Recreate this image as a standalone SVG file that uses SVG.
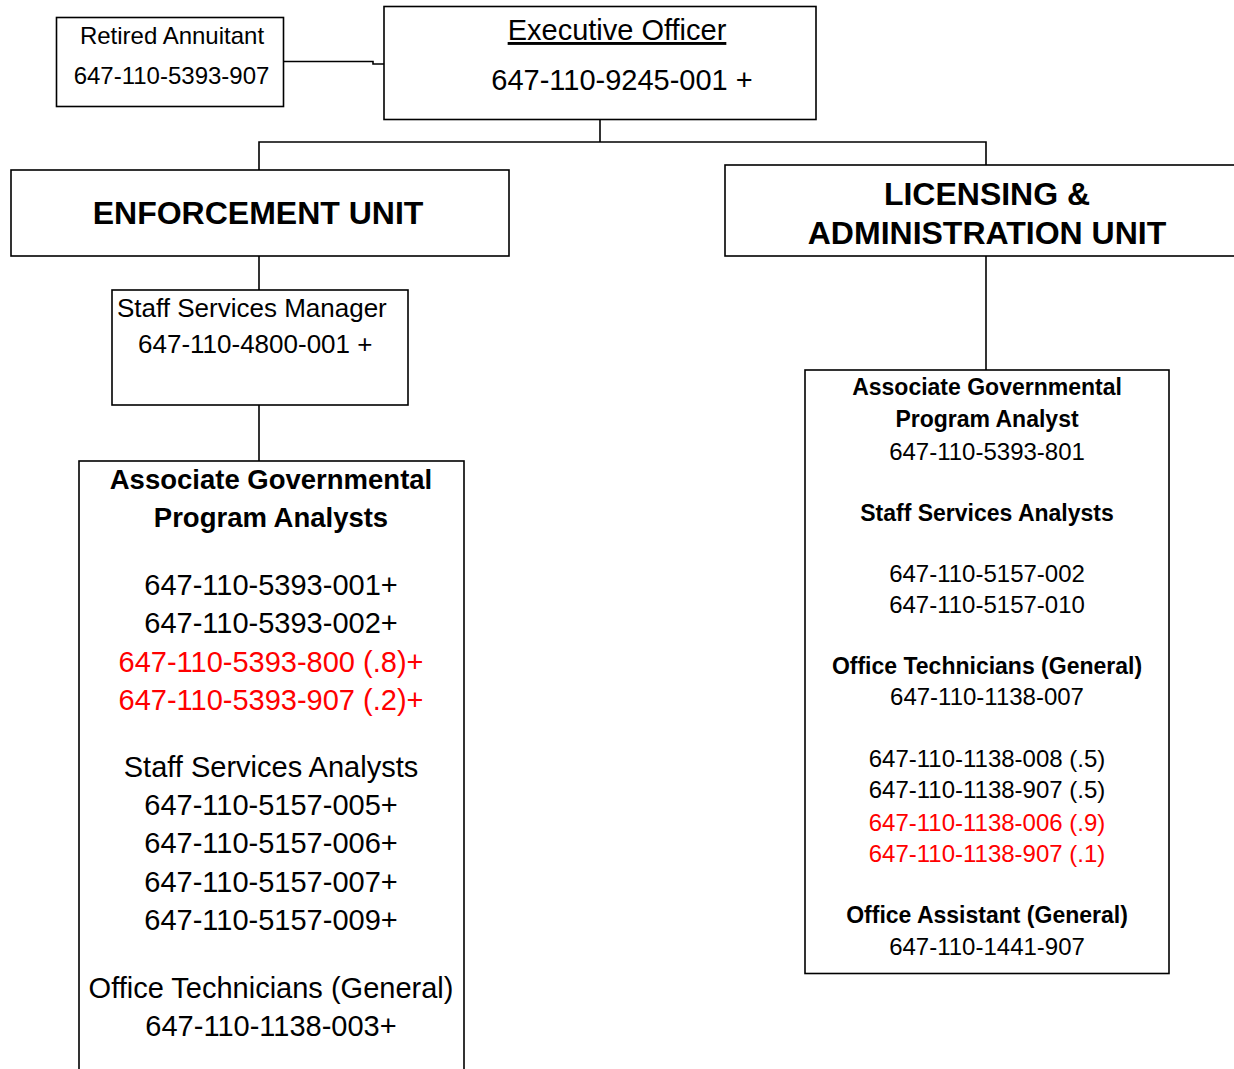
<svg xmlns="http://www.w3.org/2000/svg" width="1234" height="1069" viewBox="0 0 1234 1069">
<style>
.box{fill:#fff;stroke:#000;stroke-width:1.6}
.ln{fill:none;stroke:#000;stroke-width:1.6}
text{font-family:"Liberation Sans",Arial,sans-serif;fill:#000}
.c{text-anchor:middle}
.b{font-weight:bold}
.red{fill:#ff0000}
.unit{font-weight:bold;font-size:32px;text-anchor:middle}
.l29{font-size:29px}
.r24{font-size:24px}
.rb{font-size:23px;font-weight:bold}
.lb{font-size:27.5px;font-weight:bold}
</style>
<rect width="1234" height="1069" fill="#fff"/>
<g id="connectors">
<polyline class="ln" points="283,61.5 373,61.5 373,64 384,64"/>
<polyline class="ln" points="600,119 600,142"/>
<polyline class="ln" points="259,170 259,142 986,142 986,165"/>
<line class="ln" x1="259" y1="256" x2="259" y2="290"/>
<line class="ln" x1="259" y1="405" x2="259" y2="461"/>
<line class="ln" x1="986" y1="256" x2="986" y2="370"/>
</g>
<g id="retired">
<rect class="box" x="56.5" y="17.5" width="227" height="89"/>
<text class="c r24" x="172" y="44">Retired Annuitant</text>
<text class="c r24" x="171.5" y="84">647-110-5393-907</text>
</g>
<g id="executive">
<rect class="box" x="384" y="6.5" width="432" height="113"/>
<text class="c l29" x="617" y="40" text-decoration="underline">Executive Officer</text>
<text class="c l29" x="622" y="90">647-110-9245-001 +</text>
</g>
<g id="enforcement">
<rect class="box" x="11" y="170" width="498" height="86"/>
<text class="unit" x="258" y="224">ENFORCEMENT UNIT</text>
</g>
<g id="licensing">
<rect class="box" x="725" y="165" width="520" height="91"/>
<text class="unit" x="987" y="205">LICENSING &amp;</text>
<text class="unit" x="987" y="244">ADMINISTRATION UNIT</text>
</g>
<g id="ssm">
<rect class="box" x="112" y="290" width="296" height="115"/>
<text x="117" y="317" font-size="26">Staff Services Manager</text>
<text x="138" y="353" font-size="26">647-110-4800-001 +</text>
</g>
<g id="enf-staff">
<rect class="box" x="79" y="461" width="385" height="620"/>
<text class="c lb" x="271" y="489">Associate Governmental</text>
<text class="c lb" x="271" y="527">Program Analysts</text>
<text class="c l29" x="271" y="595">647-110-5393-001+</text>
<text class="c l29" x="271" y="633">647-110-5393-002+</text>
<text class="c l29 red" x="271" y="672">647-110-5393-800 (.8)+</text>
<text class="c l29 red" x="271" y="710">647-110-5393-907 (.2)+</text>
<text class="c l29" x="271" y="777">Staff Services Analysts</text>
<text class="c l29" x="271" y="815">647-110-5157-005+</text>
<text class="c l29" x="271" y="853">647-110-5157-006+</text>
<text class="c l29" x="271" y="892">647-110-5157-007+</text>
<text class="c l29" x="271" y="930">647-110-5157-009+</text>
<text class="c l29" x="271" y="998">Office Technicians (General)</text>
<text class="c l29" x="271" y="1036">647-110-1138-003+</text>
</g>
<g id="lic-staff">
<rect class="box" x="805" y="370" width="364" height="603.5"/>
<text class="c rb" x="987" y="395">Associate Governmental</text>
<text class="c rb" x="987" y="427">Program Analyst</text>
<text class="c r24" x="987" y="460">647-110-5393-801</text>
<text class="c rb" x="987" y="521">Staff Services Analysts</text>
<text class="c r24" x="987" y="582">647-110-5157-002</text>
<text class="c r24" x="987" y="613">647-110-5157-010</text>
<text class="c rb" x="987" y="674">Office Technicians (General)</text>
<text class="c r24" x="987" y="705">647-110-1138-007</text>
<text class="c r24" x="987" y="767">647-110-1138-008 (.5)</text>
<text class="c r24" x="987" y="798">647-110-1138-907 (.5)</text>
<text class="c r24 red" x="987" y="831">647-110-1138-006 (.9)</text>
<text class="c r24 red" x="987" y="862">647-110-1138-907 (.1)</text>
<text class="c rb" x="987" y="923">Office Assistant (General)</text>
<text class="c r24" x="987" y="955">647-110-1441-907</text>
</g>
</svg>
